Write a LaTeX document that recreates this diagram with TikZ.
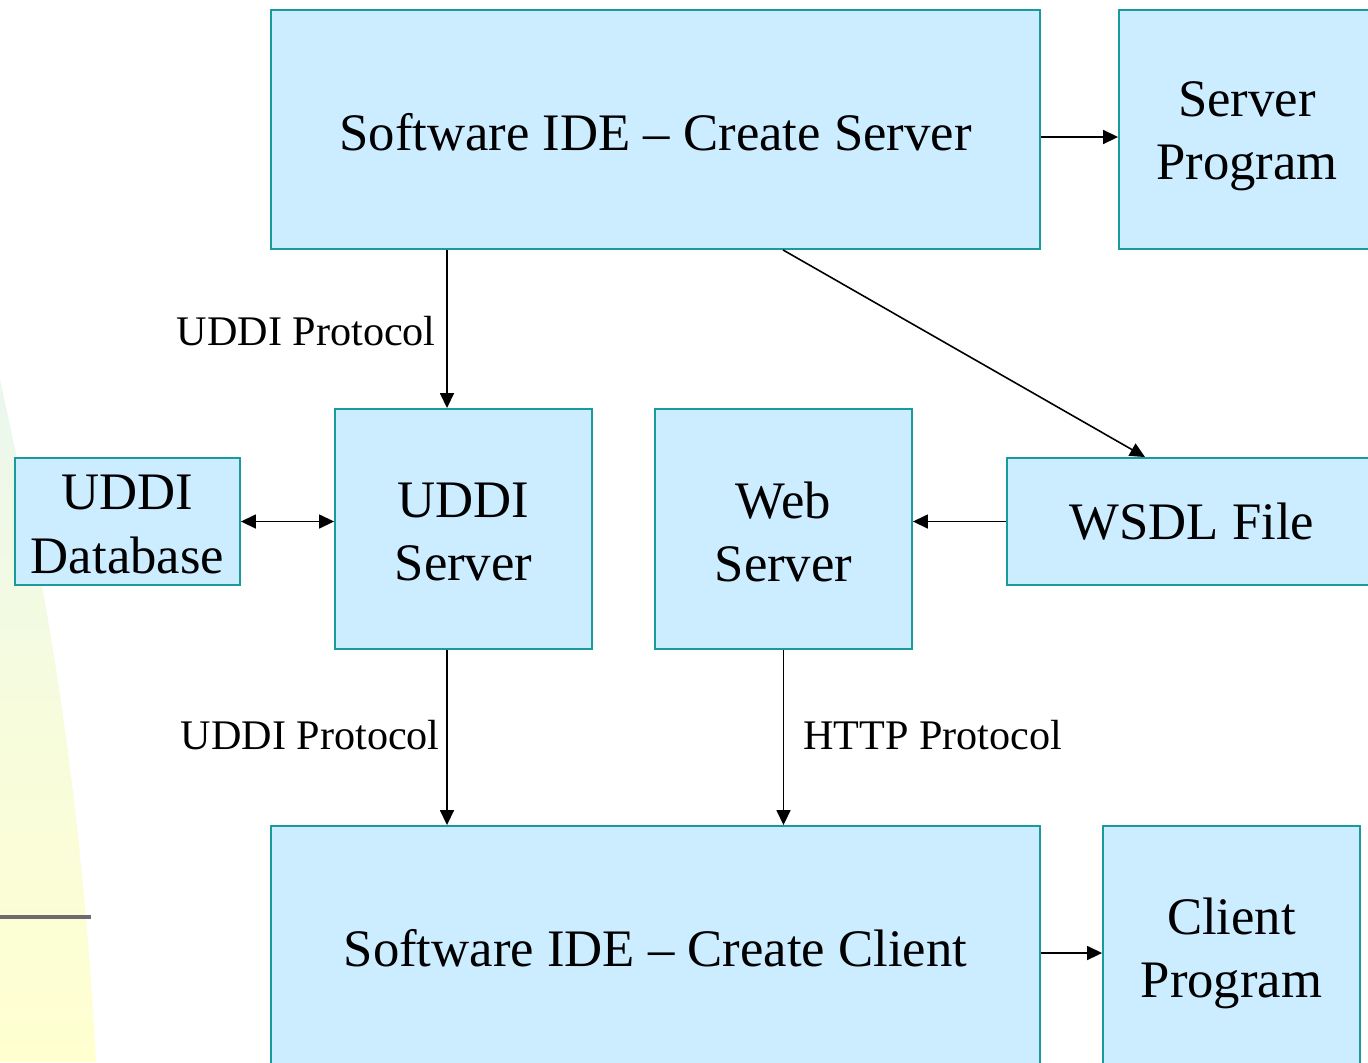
\documentclass[tikz,border=0pt]{standalone}
\usepackage{fontspec}
\setmainfont{Liberation Serif}
\usetikzlibrary{arrows.meta,calc}
\definecolor{boxfill}{RGB}{204,236,255}
\definecolor{boxline}{RGB}{25,155,155}
\definecolor{bgyellow}{RGB}{255,255,208}
\definecolor{bggreen}{RGB}{234,247,238}
\tikzset{
  box/.style={draw=boxline, fill=boxfill, line width=1.1pt, inner sep=0pt},
  boxtext/.style={inner sep=0pt, align=center, font=\fontsize{30}{36}\selectfont},
  lbl/.style={inner sep=0pt, font=\fontsize{24}{29}\selectfont},
  arr/.style={draw=black, line width=0.9pt, -{Triangle[length=0.3cm,width=0.28cm]}},
  darr/.style={draw=black, line width=0.9pt, {Triangle[length=0.3cm,width=0.28cm]}-{Triangle[length=0.3cm,width=0.28cm]}}
}
\begin{document}
\begin{tikzpicture}[x=0.02cm,y=-0.02cm]
\useasboundingbox (0,0) rectangle (1368,1062);
\clip (0,0) rectangle (1368,1062);
% background decoration
\shade[top color=bggreen, bottom color=bgyellow, middle color=bgyellow!60!bggreen]
  (0,380) .. controls (40,560) and (80,760) .. (96,1062) -- (0,1062) -- cycle;
\draw[gray!85!black, line width=2pt] (0,917) -- (91,917);
% boxes
\node[box, minimum width=15.38cm, minimum height=4.78cm] (ideS) at (655.5,129.5) {};
\node[box, minimum width=5.12cm, minimum height=4.78cm] (sprog) at (1247,129.5) {};
\node[box, minimum width=4.5cm, minimum height=2.54cm] (udb) at (127.5,521.5) {};
\node[box, minimum width=5.14cm, minimum height=4.8cm] (usrv) at (463.5,529) {};
\node[box, minimum width=5.14cm, minimum height=4.8cm] (web) at (783.5,529) {};
\node[box, minimum width=7.4cm, minimum height=2.54cm] (wsdl) at (1192,521.5) {};
\node[box, minimum width=15.38cm, minimum height=4.78cm] (ideC) at (655.5,945.5) {};
\node[box, minimum width=5.14cm, minimum height=4.78cm] (cprog) at (1231.5,945.5) {};
% box texts
\node[boxtext] (ideSt) at ($(ideS)+(0,3)$) {Software IDE -- Create Server};
\node[boxtext] (sprogt) at ($(sprog)+(0,7)$) {Server\\Program};
\node[boxtext] (udbt) at ($(udb)+(0,3)$) {UDDI\\Database};
\node[boxtext] (usrvt) at ($(usrv)+(0,3)$) {UDDI\\Server};
\node[boxtext] (webt) at ($(web)+(0,3)$) {Web\\Server};
\node[boxtext] (wsdlt) at (wsdl) {WSDL File};
\node[boxtext] (ideCt) at ($(ideC)+(0,3)$) {Software IDE -- Create Client};
\node[boxtext] (cprogt) at ($(cprog)+(0,8)$) {Client\\Program};
% helper coordinates
\coordinate (a1) at ($(usrv.north)+(-16.5,0)$);
\coordinate (sA) at ($(ideS.east)+(0,7.5)$);
\coordinate (cA) at ($(ideC.east)+(0,7.5)$);
\coordinate (dS) at ($(ideS.south)+(127.5,0)$);
\coordinate (dE) at ($(wsdl.north)+(-47,0)$);
% connectors
\draw[arr] (ideS.south -| a1) -- (a1);
\draw[arr] (dS) -- (dE);
\draw[arr] (sA) -- (sA -| sprog.west);
\draw[darr] (udb.east) -- (udb.east -| usrv.west);
\draw[arr] (wsdl.west) -- (wsdl.west -| web.east);
\draw[arr] (usrv.south -| a1) -- (ideC.north -| a1);
\draw[arr] (web.south) -- (ideC.north -| web.south);
\draw[arr] (cA) -- (cA -| cprog.west);
% labels
\node[lbl, anchor=east] (l1) at (436,331) {UDDI Protocol};
\node[lbl, anchor=east] (l2) at (440,735) {UDDI Protocol};
\node[lbl, anchor=west] (l3) at (803,735) {HTTP Protocol};
\end{tikzpicture}
\end{document}
